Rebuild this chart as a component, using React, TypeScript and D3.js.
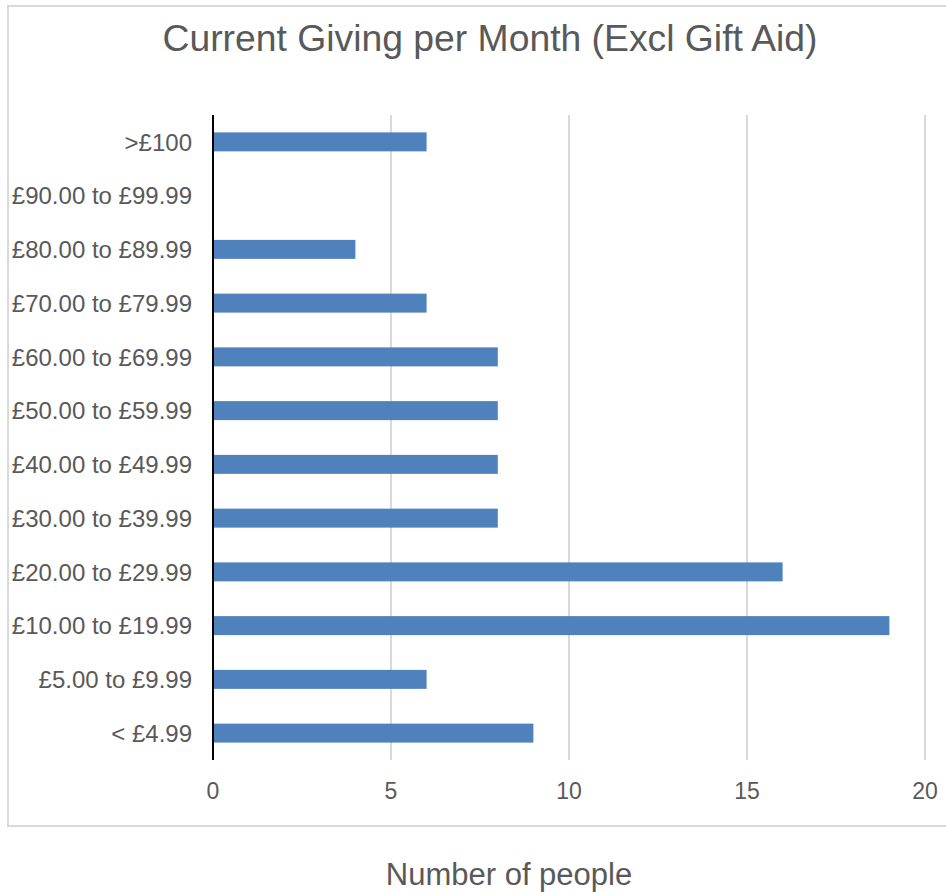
import React from "react";
import * as d3 from "d3";

const categories = [
  ">£100",
  "£90.00 to £99.99",
  "£80.00 to £89.99",
  "£70.00 to £79.99",
  "£60.00 to £69.99",
  "£50.00 to £59.99",
  "£40.00 to £49.99",
  "£30.00 to £39.99",
  "£20.00 to £29.99",
  "£10.00 to £19.99",
  "£5.00 to £9.99",
  "< £4.99",
];
const values = [6, 0, 4, 6, 8, 8, 8, 8, 16, 19, 6, 9];
const xTicks = [0, 5, 10, 15, 20];
const title = "Current Giving per Month (Excl Gift Aid)";
const xTitle = "Number of people";

const W = 946;
const H = 892;
const plotLeft = 213;
const plotRight = 925;
const plotTop = 115;
const plotBottom = 760;
const textColor = "#595959";
const font = "'Liberation Sans', Arial, sans-serif";

export default function App() {
  const x = d3.scaleLinear().domain([0, 20]).range([plotLeft, plotRight]);
  const y = d3
    .scaleBand<string>()
    .domain(categories)
    .range([plotTop, plotBottom])
    .paddingInner(0.647)
    .paddingOuter(0.3235);

  return (
    <div style={{ position: "absolute", left: 0, top: 0, width: W, height: H }}>
      <svg width={W} height={H} style={{ display: "block", fontFamily: font }}>
        <rect x={0} y={0} width={W} height={H} fill="#ffffff" />
        <rect x={8} y={6} width={W + 10} height={820} fill="none" stroke="#d9d9d9" strokeWidth={2} />
        <text
          x={490}
          y={51}
          textAnchor="middle"
          fontSize={36}
          fill={textColor}
          textLength={655}
          lengthAdjust="spacingAndGlyphs"
        >
          {title}
        </text>
        {xTicks.map((t) =>
          t === 0 ? null : (
            <line key={"g" + t} x1={x(t)} x2={x(t)} y1={plotTop} y2={plotBottom} stroke="#d9d9d9" strokeWidth={2} />
          )
        )}
        {categories.map((c, i) => (
          <rect
            key={c}
            x={x(0)}
            y={y(c)!}
            width={x(values[i]) - x(0)}
            height={y.bandwidth()}
            fill="#4f81bd"
          />
        ))}
        <line x1={x(0)} x2={x(0)} y1={plotTop} y2={plotBottom} stroke="#000000" strokeWidth={2} />
        {categories.map((c) => (
          <text
            key={"l" + c}
            x={192}
            y={y(c)! + y.bandwidth() / 2}
            dy="0.36em"
            textAnchor="end"
            fontSize={24}
            fill={textColor}
          >
            {c}
          </text>
        ))}
        {xTicks.map((t) => (
          <text key={"t" + t} x={x(t)} y={799} textAnchor="middle" fontSize={23} fill={textColor}>
            {t}
          </text>
        ))}
        <text x={509} y={885} textAnchor="middle" fontSize={31} fill={textColor}>
          {xTitle}
        </text>
      </svg>
    </div>
  );
}
